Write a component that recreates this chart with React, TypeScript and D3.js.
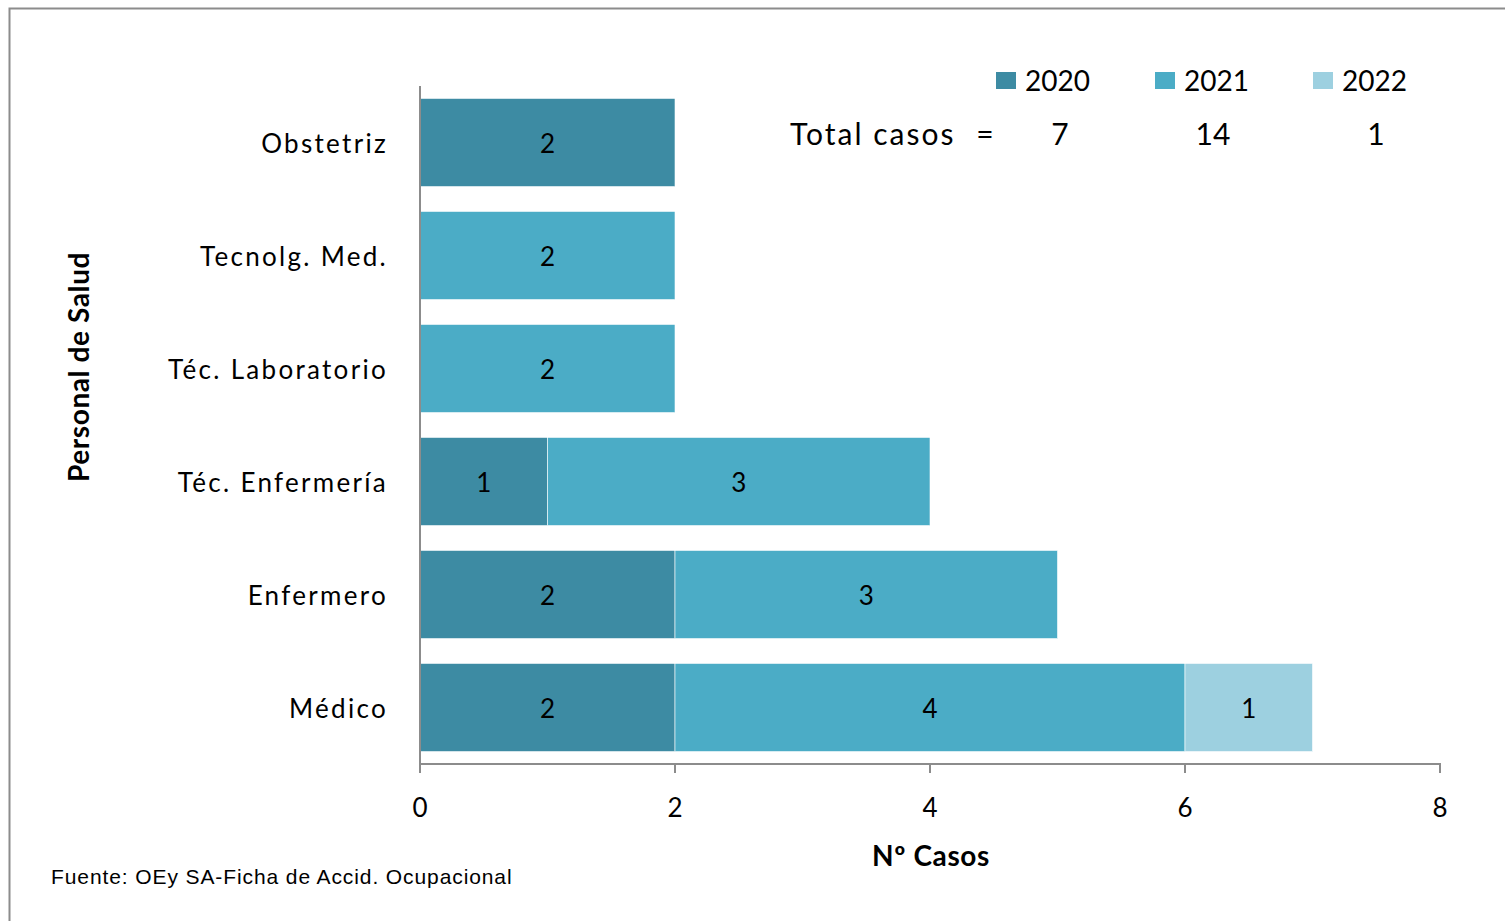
import React from "react";
import * as d3 from "d3";

const categories = ["Obstetriz", "Tecnolg. Med.", "Téc. Laboratorio", "Téc. Enfermería", "Enfermero", "Médico"];
const years = ["2020", "2021", "2022"];
const values2020 = [2, 0, 0, 1, 2, 2];
const values2021 = [0, 2, 2, 3, 3, 4];
const values2022 = [0, 0, 0, 0, 0, 1];
const totals = ["7", "14", "1"];
const xTicks = [0, 2, 4, 6, 8];
const colors = ["#3d8ba3", "#4bacc6", "#9dd0e0"];

const W = 1505, H = 921;
const font = "Lato, 'Open Sans', sans-serif";

export default function App() {
  const x = d3.scaleLinear().domain([0, 8]).range([420, 1440]);
  const y = d3.scaleBand().domain(categories).range([86, 764]).paddingInner(0.22).paddingOuter(0.11);
  const rows = categories.map((c, i) => ({ cat: c, "2020": values2020[i], "2021": values2021[i], "2022": values2022[i] }));
  const stack = d3.stack<any>().keys(years)(rows);
  const legendX = [996, 1155, 1313];
  const totalX = [1060, 1213, 1376];

  return (
    <svg width={W} height={H} style={{ position: "absolute", left: 0, top: 0 }}>
      <rect x={0} y={0} width={W} height={H} fill="#fff" />
      <rect x={9.5} y={8.5} width={W + 10} height={H + 10} fill="none" stroke="#8c8c8c" strokeWidth={2} />
      {stack.map((s, si) =>
        s.map((d, i) => {
          const v = d[1] - d[0];
          if (v <= 0) return null;
          const cat = categories[i];
          const x0 = x(d[0]), x1 = x(d[1]);
          const yy = y(cat)!;
          return (
            <g key={si + "-" + i}>
              <rect x={x0} y={yy} width={x1 - x0} height={y.bandwidth()} fill={colors[si]} stroke="#fff" strokeWidth={0.6} />
              <text x={(x0 + x1) / 2} y={yy + y.bandwidth() / 2 + 10} textAnchor="middle" fontFamily={font} fontSize={26} fill="#000">{v}</text>
            </g>
          );
        })
      )}
      {/* axes */}
      <line x1={420} y1={86} x2={420} y2={765} stroke="#8c8c8c" strokeWidth={2} />
      <line x1={419} y1={764} x2={1441} y2={764} stroke="#8c8c8c" strokeWidth={2} />
      {xTicks.map((t) => (
        <g key={t}>
          <line x1={x(t)} y1={764} x2={x(t)} y2={773} stroke="#8c8c8c" strokeWidth={2} />
          <text x={x(t)} y={817} textAnchor="middle" fontFamily={font} fontSize={26} fill="#000">{t}</text>
        </g>
      ))}
      {categories.map((c) => (
        <text key={c} x={388} y={y(c)! + y.bandwidth() / 2 + 10} textAnchor="end" fontFamily={font} fontSize={26} fill="#000" letterSpacing={2.3}>{c}</text>
      ))}
      <text transform="translate(89,367) rotate(-90)" textAnchor="middle" fontFamily={font} fontSize={28} fontWeight="bold" fill="#000" letterSpacing={0.6}>Personal de Salud</text>
      <text x={931} y={866} textAnchor="middle" fontFamily={font} fontSize={28} fontWeight="bold" fill="#000" letterSpacing={0.6}>Nº Casos</text>
      <text x={51} y={884} fontFamily="'Liberation Sans', Arial, sans-serif" fontSize={21} fill="#000" letterSpacing={0.9}>Fuente: OEy SA-Ficha de Accid. Ocupacional</text>
      {/* legend */}
      {years.map((yr, i) => (
        <g key={yr}>
          <rect x={legendX[i]} y={72} width={20} height={17} fill={colors[i]} />
          <text x={legendX[i] + 29} y={91} fontFamily={font} fontSize={28} fill="#000">{yr}</text>
          <text x={totalX[i]} y={145} textAnchor="middle" fontFamily={font} fontSize={30} fill="#000">{totals[i]}</text>
        </g>
      ))}
      <text x={790} y={145} fontFamily={font} fontSize={30} fill="#000" letterSpacing={2}>Total casos</text>
      <text x={985} y={145} textAnchor="middle" fontFamily={font} fontSize={30} fill="#000">=</text>
    </svg>
  );
}
